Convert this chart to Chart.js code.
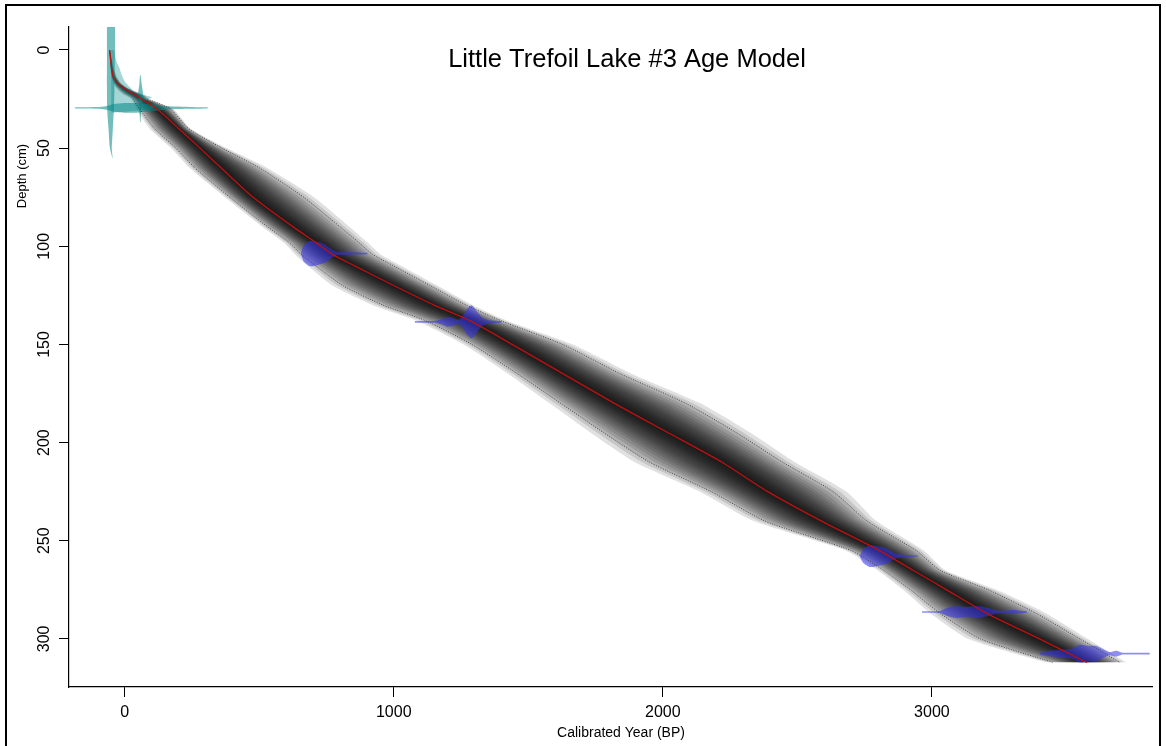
<!DOCTYPE html>
<html>
<head>
<meta charset="utf-8">
<title>Little Trefoil Lake #3 Age Model</title>
<script src="https://cdn.jsdelivr.net/npm/chart.js@4.4.0/dist/chart.umd.min.js"></script>
<style>
  html, body { margin: 0; padding: 0; background: #fff; }
  canvas { display: block; }
</style>
</head>
<body>
<canvas id="ageModel" width="1166" height="746"></canvas>
<script>
// age-depth model (depth in cm, ages in cal BP)
const depths  = [0, 5, 10, 14, 17, 19, 21, 23, 25, 30, 40, 50, 60, 75, 90, 98, 104, 110, 120, 130, 138, 150, 165, 180, 195, 210, 225, 240, 255, 265, 275, 287, 300, 312];
const meanAge = [-56, -52, -48, -42, -25, -7, 15, 42, 62, 120, 200, 280, 358, 477, 625, 710, 770, 855, 1000, 1150, 1285, 1440, 1630, 1820, 2020, 2220, 2390, 2590, 2805, 2930, 3055, 3204, 3400, 3576];
const minAge  = [-58, -55, -52, -48, -40, -30, -15, 5, 30, 55, 110, 190, 260, 390, 530, 610, 655, 710, 810, 960, 1120, 1290, 1460, 1620, 1780, 1950, 2180, 2380, 2700, 2820, 2920, 3030, 3180, 3450];
const maxAge  = [-54, -48, -40, -30, -15, 5, 35, 70, 85, 170, 237, 362, 500, 666, 800, 870, 920, 1000, 1135, 1270, 1400, 1628, 1843, 2086, 2275, 2446, 2634, 2760, 2942, 3030, 3210, 3388, 3550, 3699];

// calibrated 14C dates: depth, ages and half-height of the distribution (cm)
const dateDepths = [103.7, 138.5, 257.8, 286.3, 307.5];
const dateAges = [
  [655, 665, 690, 715, 740, 765, 790, 830, 870, 903],
  [1078, 1150, 1182, 1200, 1220, 1240, 1256, 1275, 1290, 1310, 1331, 1350, 1401],
  [2732, 2745, 2770, 2800, 2830, 2855, 2870, 2900, 2948],
  [2963, 3030, 3056, 3090, 3130, 3170, 3210, 3240, 3280, 3300, 3320, 3353],
  [3401, 3440, 3480, 3520, 3550, 3580, 3610, 3640, 3660, 3685, 3710, 3810]
];
const dateSpread = [
  [0, 4, 6.5, 6, 5, 2.5, 0.8, 0.6, 0.5, 0.3],
  [0.4, 0.5, 1.5, 2.5, 2, 1, 3, 7, 8.4, 5, 2, 0.8, 0.4],
  [0.3, 3.5, 5.6, 5, 4, 2, 1, 0.6, 0.3],
  [0.4, 0.5, 2, 3, 2.5, 3, 2, 0.8, 0.7, 1.2, 0.8, 0.4],
  [0.5, 1.5, 2, 2.5, 4.5, 4, 4, 2, 0.8, 1.5, 0.5, 0.4]
];

// 210Pb section near the top
const pbDepths = [-12, 0, 10, 20, 30, 35, 40, 45, 50, 55];
const pbLeft   = [-66, -66, -66, -66, -65, -63, -60, -58, -55, -46];
const pbRight  = [-36, -36, -37, -38, -40, -42, -44, -46, -48, -45];
const pbStepDepths = [0, 6, 9, 13, 16, 19, 22, 24, 26, 28, 30, 32];
const pbStepRight  = [-40, -30, -20, -10, 0, 20, 40, 100, 80, 119, 100, -40];
const pbDateDepth = 29.5;
const pbDateAges   = [-186, -100, -66, -40, 0, 40, 80, 119, 160, 240, 309];
const pbDateSpread = [0.3, 0.4, 1, 2, 2.5, 2.5, 2, 1.5, 0.8, 0.5, 0.3];
const spikeDepths = [12.7, 18, 22, 26, 30, 34, 37];
const spikeLeft   = [57, 54, 50, 52, 54, 56, 57];
const spikeRight  = [59, 64, 68, 66, 62, 60, 59];

const xTicks = [0, 1000, 2000, 3000];
const yTicks = [0, 50, 100, 150, 200, 250, 300];
const bandFractions = [1.2, 1.1, 1.0, 0.92, 0.84, 0.76, 0.69, 0.62, 0.55, 0.49, 0.43, 0.37, 0.31, 0.26, 0.21, 0.16, 0.11, 0.06];

const datasets = [];
function addShape(a, b, color, axis, order) {
  const i = datasets.length;
  datasets.push({ data: a, indexAxis: axis, borderWidth: 0, borderColor: 'transparent', pointRadius: 0, fill: false, order: order });
  datasets.push({ data: b, indexAxis: axis, borderWidth: 0, borderColor: 'transparent', pointRadius: 0, fill: i, backgroundColor: color, order: order });
}

// grey density bands
bandFractions.forEach(f => {
  const right = depths.map((d, i) => ({ x: meanAge[i] + f * (maxAge[i] - meanAge[i]), y: d }));
  const left = depths.map((d, i) => ({ x: meanAge[i] - f * (meanAge[i] - minAge[i]), y: d }));
  addShape(right, left, 'rgba(0,0,0,0.12)', 'y', 10);
});

// teal 210Pb shapes
const teal = 'rgba(0,135,135,0.55)';
addShape(pbDepths.map((d, i) => ({ x: pbRight[i], y: d })), pbDepths.map((d, i) => ({ x: pbLeft[i], y: d })), teal, 'y', 5);
addShape(pbStepDepths.map((d, i) => ({ x: pbStepRight[i], y: d })), pbStepDepths.map(d => ({ x: -50, y: d })), 'rgba(0,135,135,0.35)', 'y', 5);
addShape(spikeDepths.map((d, i) => ({ x: spikeRight[i], y: d })), spikeDepths.map((d, i) => ({ x: spikeLeft[i], y: d })), teal, 'y', 5);
addShape(pbDateAges.map((a, i) => ({ x: a, y: pbDateDepth - pbDateSpread[i] })), pbDateAges.map((a, i) => ({ x: a, y: pbDateDepth + pbDateSpread[i] })), teal, 'x', 5);

// blue calibrated dates
dateDepths.forEach((dep, k) => {
  const top = dateAges[k].map((a, i) => ({ x: a, y: dep - dateSpread[k][i] }));
  const bottom = dateAges[k].map((a, i) => ({ x: a, y: dep + dateSpread[k][i] }));
  addShape(top, bottom, 'rgba(50,50,235,0.55)', 'x', 4);
});

// 95% bounds (dotted) and mean (red)
const startIdx = depths.indexOf(25);
datasets.push({ data: depths.slice(startIdx).map((d, i) => ({ x: minAge[i + startIdx], y: d })), indexAxis: 'y', borderColor: '#3a3a3a', borderWidth: 0.9, borderDash: [1, 1.5], pointRadius: 0, fill: false, tension: 0.2, order: 3 });
datasets.push({ data: depths.slice(startIdx).map((d, i) => ({ x: maxAge[i + startIdx], y: d })), indexAxis: 'y', borderColor: '#3a3a3a', borderWidth: 0.9, borderDash: [1, 1.5], pointRadius: 0, fill: false, tension: 0.2, order: 3 });
datasets.push({ data: depths.map((d, i) => ({ x: meanAge[i], y: d })), indexAxis: 'y', borderColor: '#c01010', borderWidth: 1.3, pointRadius: 0, fill: false, tension: 0.2, order: 1 });

const axisStyle = {
  grid: { drawOnChartArea: false, drawTicks: true, tickLength: 10, color: '#000', lineWidth: 1 },
  border: { display: true, color: '#000', width: 1.2 },
  ticks: { display: false }
};

const decor = {
  id: 'decor',
  afterDraw(chart) {
    const ctx = chart.ctx;
    const xs = chart.scales.x, ys = chart.scales.y;
    ctx.save();
    ctx.fillStyle = '#000';
    ctx.textAlign = 'center';
    ctx.textBaseline = 'middle';
    ctx.font = '16px "Liberation Sans", Arial, sans-serif';
    xTicks.forEach(v => ctx.fillText(String(v), xs.getPixelForValue(v), 713));
    yTicks.forEach(v => {
      ctx.save();
      ctx.translate(45, ys.getPixelForValue(v));
      ctx.rotate(-Math.PI / 2);
      ctx.fillText(String(v), 0, 0);
      ctx.restore();
    });
    ctx.font = '14px "Liberation Sans", Arial, sans-serif';
    ctx.fillText('Calibrated Year (BP)', 621, 733);
    ctx.save();
    ctx.translate(22, 176);
    ctx.rotate(-Math.PI / 2);
    ctx.font = '13px "Liberation Sans", Arial, sans-serif';
    ctx.fillText('Depth (cm)', 0, 0);
    ctx.restore();
    ctx.font = '25.5px "Liberation Sans", Arial, sans-serif';
    ctx.fillText('Little Trefoil Lake #3 Age Model', 627, 60);
    ctx.lineWidth = 2;
    ctx.strokeStyle = '#000';
    ctx.strokeRect(6, 5, 1154, 745);
    ctx.restore();
  }
};

new Chart(document.getElementById('ageModel'), {
  type: 'line',
  data: { datasets: datasets },
  options: {
    responsive: false,
    animation: false,
    events: [],
    layout: { padding: { top: 27, right: 14, left: 0, bottom: 0 } },
    plugins: { legend: { display: false }, tooltip: { enabled: false } },
    elements: { line: { tension: 0.2 } },
    scales: {
      x: Object.assign({
        type: 'linear', min: -207, max: 3818,
        afterBuildTicks: s => { s.ticks = xTicks.map(v => ({ value: v })); },
        afterFit: s => { s.height = 59; }
      }, axisStyle),
      y: Object.assign({
        type: 'linear', reverse: true, min: -11.7, max: 324.5,
        afterBuildTicks: s => { s.ticks = yTicks.map(v => ({ value: v })); },
        afterFit: s => { s.width = 69; }
      }, axisStyle)
    }
  },
  plugins: [decor]
});
</script>
</body>
</html>
